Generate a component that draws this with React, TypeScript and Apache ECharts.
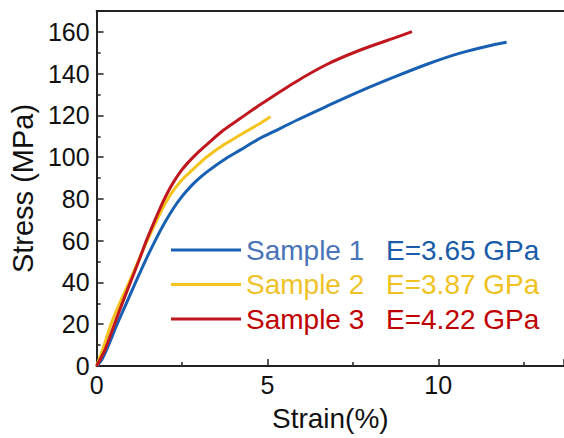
import React, { useEffect, useRef } from "react";
import * as echarts from "echarts";

const sampleNames = ["Sample 1", "Sample 2", "Sample 3"];
const modulusLabels = ["E=3.65 GPa", "E=3.87 GPa", "E=4.22 GPa"];
const lineColors = ["#1860B2", "#F4C41C", "#C0161E"];
const nameColors = ["#4A74B8", "#F0C22A", "#C00000"];
const modulusColors = ["#1A5CAA", "#F0C21E", "#C00000"];

const strain1 = [0, 0.15, 0.35, 0.6, 0.87, 1.14, 1.43, 1.73, 2.0, 2.26, 2.5, 2.75, 3.0, 3.24, 3.72, 4.21, 4.7, 5.18, 5.87, 6.75, 7.7, 8.7, 9.67, 10.64, 11.62, 12.0];
const stress1 = [0, 3, 10, 20, 30, 40, 50.5, 60.5, 68.8, 75.8, 81.2, 85.9, 89.8, 93.1, 98.7, 103.5, 108.3, 112.2, 117.8, 124.5, 131.5, 138.3, 144.5, 149.8, 153.8, 155];

const strain2 = [0, 0.2, 0.42, 0.7, 0.95, 1.2, 1.48, 1.87, 2.06, 2.26, 2.5, 2.75, 3.0, 3.24, 3.72, 4.21, 4.7, 5.09];
const stress2 = [0, 9, 20, 31, 40, 49.5, 60, 73.5, 79.3, 84.3, 89.2, 93.1, 96.9, 100.3, 105.9, 110.7, 115.4, 119.4];

const strain3 = [0, 0.25, 0.5, 0.75, 1.0, 1.25, 1.48, 1.87, 2.06, 2.26, 2.5, 2.75, 3.0, 3.24, 3.72, 4.21, 4.7, 5.8, 6.75, 7.7, 8.7, 9.23];
const stress3 = [0, 8, 19, 30, 40.5, 51, 61, 76, 82.5, 88.3, 94, 98.7, 102.8, 106.3, 113, 118.6, 124.2, 135.8, 144.5, 151.2, 157, 160.1];

const xTicks = { min: 0, max: 13.68, interval: 5 };
const yTicks = { min: 0, max: 170, interval: 20 };

const strains = [strain1, strain2, strain3];
const stresses = [stress1, stress2, stress3];

export default function App() {
  const ref = useRef<HTMLDivElement>(null);
  useEffect(() => {
    if (!ref.current) return;
    const chart = echarts.init(ref.current, null, { renderer: "svg" });
    const axisFont = "Liberation Sans, Arial";
    const rich: Record<string, any> = {};
    sampleNames.forEach((_, i) => {
      rich["s" + i] = {
        fontFamily: "Liberation Sans, Arial",
        fontSize: 28,
        color: nameColors[i],
        width: 140,
        lineHeight: 30,
      };
      rich["e" + i] = {
        fontFamily: "Liberation Sans, Arial",
        fontSize: 28,
        color: modulusColors[i],
        lineHeight: 30,
      };
    });
    const series = sampleNames.map((name, i) => ({
      name,
      type: "line",
      data: strains[i].map((x, j) => [x, stresses[i][j]]),
      showSymbol: false,
      symbol: "none",
      smooth: 0.3,
      lineStyle: { color: lineColors[i], width: 3 },
      itemStyle: { color: lineColors[i] },
      xAxisIndex: 0,
      yAxisIndex: 0,
    }));
    chart.setOption({
      animation: false,
      backgroundColor: "#ffffff",
      grid: { left: 96, right: 0, top: 11, bottom: 72 },
      legend: {
        orient: "vertical",
        left: 171,
        top: 236,
        padding: 0,
        icon: "rect",
        itemWidth: 70,
        itemHeight: 3,
        itemGap: 6.5,
        data: sampleNames,
        formatter: (name: string) => {
          const i = sampleNames.indexOf(name);
          return `{s${i}|${name}}{e${i}|${modulusLabels[i]}}`;
        },
        textStyle: { rich },
      },
      xAxis: [
        {
          type: "value",
          min: xTicks.min,
          max: xTicks.max,
          interval: xTicks.interval,
          name: "Strain(%)",
          nameLocation: "middle",
          nameGap: 38,
          nameTextStyle: { fontFamily: axisFont, fontSize: 28, color: "#111" },
          axisLine: { show: true, lineStyle: { color: "#222", width: 2 } },
          axisTick: { show: true, inside: true, length: 7, lineStyle: { color: "#222", width: 1.5 } },
          minorTick: { show: true, splitNumber: 2, length: 4, lineStyle: { color: "#222", width: 1.5 } },
          axisLabel: { fontFamily: axisFont, fontSize: 25, color: "#111", margin: 6, showMaxLabel: false },
          splitLine: { show: false },
          minorSplitLine: { show: false },
        },
        {
          type: "value",
          position: "top",
          min: xTicks.min,
          max: xTicks.max,
          axisLine: { show: true, lineStyle: { color: "#222", width: 2 } },
          axisTick: { show: false },
          axisLabel: { show: false },
          splitLine: { show: false },
        },
      ],
      yAxis: {
        type: "value",
        min: yTicks.min,
        max: yTicks.max,
        interval: yTicks.interval,
        name: "Stress (MPa)",
        nameLocation: "middle",
        nameGap: 52,
        nameTextStyle: { fontFamily: axisFont, fontSize: 29, color: "#111" },
        axisLine: { show: true, lineStyle: { color: "#222", width: 2 } },
        axisTick: { show: true, inside: true, length: 7, lineStyle: { color: "#222", width: 1.5 } },
        minorTick: { show: true, splitNumber: 2, length: 4, lineStyle: { color: "#222", width: 1.5 } },
        axisLabel: { fontFamily: axisFont, fontSize: 25, color: "#111", margin: 7, showMaxLabel: false },
        splitLine: { show: false },
        minorSplitLine: { show: false },
      },
      series,
    });
    return () => chart.dispose();
  }, []);
  return (
    <div
      ref={ref}
      style={{ position: "fixed", left: 0, top: 0, width: 564, height: 438, background: "#fff" }}
    />
  );
}
